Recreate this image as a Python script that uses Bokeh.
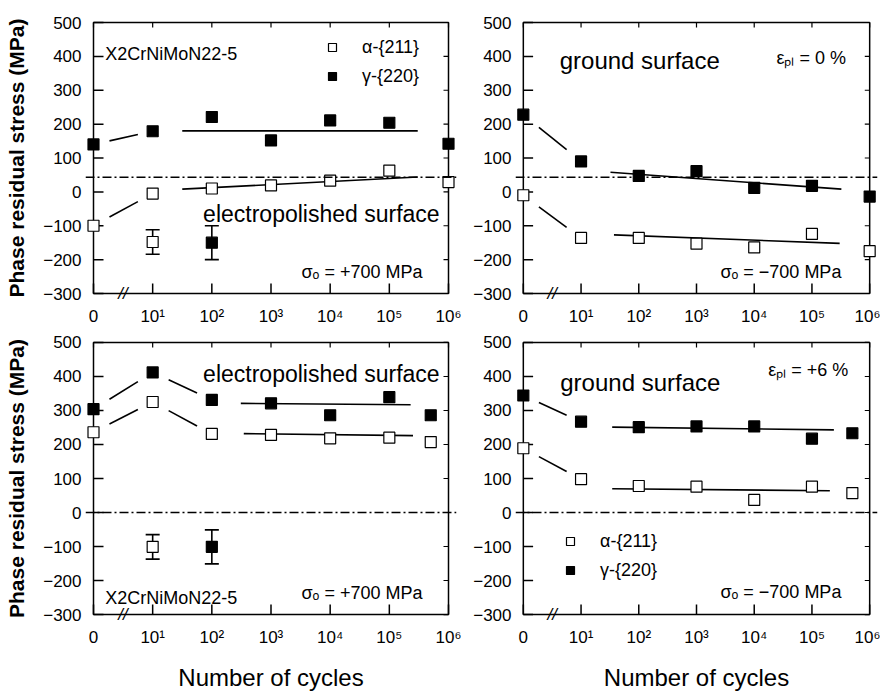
from bokeh.plotting import figure
from bokeh.layouts import column, row
from bokeh.models import (FixedTicker, Span, Whisker, TeeHead, ColumnDataSource,
                          Label, Range1d, Legend, LegendItem)
from bokeh.embed import file_html
from bokeh.resources import INLINE

# ---------------- data ----------------
x_tick_pos = [0, 1, 2, 3, 4, 5, 6]
x_tick_labels = ["0", "10¹", "10²", "10³", "10⁴", "10⁵", "10⁶"]
y_ticks = [-300, -200, -100, 0, 100, 200, 300, 400, 500]
x_min, x_max, y_min, y_max = 0, 6, -300, 500
break_pos = 0.5

# top-left: electropolished, sigma_o = +700 MPa
tl_x = [0, 1, 2, 3, 4, 5, 6]
tl_alpha = [-100, -5, 10, 19, 33, 63, 29]
tl_gamma = [140, 179, 221, 152, 211, 204, 142]
tl_err_x = [1, 2]
tl_err_y = [-148, -150]
tl_err_d = [36, 50]
tl_err_kind = ["alpha", "gamma"]
tl_fit_alpha_x, tl_fit_alpha_y = [1.5, 5.48], [8, 44]
tl_fit_gamma_x, tl_fit_gamma_y = [1.5, 5.48], [180, 180]
tl_ref = 43

# top-right: ground, eps_pl = 0 %
tr_x = [0, 1, 2, 3, 4, 5, 6]
tr_alpha = [-10, -136, -136, -153, -164, -124, -175]
tr_gamma = [228, 90, 47, 61, 12, 18, -14]
tr_fit_alpha_x, tr_fit_alpha_y = [1.57, 5.48], [-127, -152]
tr_fit_gamma_x, tr_fit_gamma_y = [1.51, 5.51], [58, 8]
tr_ref = 43

# bottom-left: electropolished, sigma_o = +700 MPa
bl_x = [0, 1, 2, 3, 4, 5, 5.7]
bl_alpha = [236, 325, 231, 228, 218, 220, 207]
bl_gamma = [304, 412, 331, 321, 286, 339, 286]
bl_err_x = [1, 2]
bl_err_y = [-101, -101]
bl_err_d = [36, 50]
bl_err_kind = ["alpha", "gamma"]
bl_fit_alpha_x, bl_fit_alpha_y = [2.54, 5.4], [232, 226]
bl_fit_gamma_x, bl_fit_gamma_y = [2.49, 5.36], [321, 317]
bl_ref = 0

# bottom-right: ground, eps_pl = +6 %
br_x = [0, 1, 2, 3, 4, 5, 5.7]
br_alpha = [189, 98, 78, 76, 37, 76, 57]
br_gamma = [344, 267, 251, 253, 253, 217, 233]
br_fit_alpha_x, br_fit_alpha_y = [1.54, 5.31], [70, 64]
br_fit_gamma_x, br_fit_gamma_y = [1.54, 5.38], [251, 243]
br_ref = 0

SANS = "Liberation Sans"
PAD = 8


def make_panel(width, height, bl, br, bt, bb, box_w, box_h, ylabel=None, xlabel=None):
    ux = box_w / (x_max - x_min)
    uy = box_h / (y_max - y_min)
    p = figure(width=width, height=height, title=None,
               x_range=Range1d(x_min - PAD / ux, x_max + PAD / ux),
               y_range=Range1d(y_min - PAD / uy, y_max + PAD / uy),
               output_backend="svg", toolbar_location=None,
               min_border_left=bl, min_border_right=br,
               min_border_top=bt, min_border_bottom=bb)
    p.xgrid.visible = False
    p.ygrid.visible = False
    p.outline_line_color = None
    p.background_fill_color = "white"
    p.border_fill_color = "white"
    for ax in (p.xaxis[0], p.yaxis[0]):
        ax.axis_line_color = None
        ax.major_tick_in = 0
        ax.major_tick_out = 0
        ax.minor_tick_line_color = None
        ax.major_label_text_font = SANS
        ax.major_label_text_font_size = "17px"
        ax.major_label_text_color = "black"
    p.yaxis[0].major_label_standoff = 4
    p.xaxis[0].major_label_standoff = 5
    p.xaxis[0].ticker = FixedTicker(ticks=x_tick_pos)
    p.xaxis[0].major_label_overrides = {t: s for t, s in zip(x_tick_pos, x_tick_labels)}
    p.yaxis[0].ticker = FixedTicker(ticks=y_ticks)
    if ylabel:
        p.yaxis[0].axis_label = ylabel
        p.yaxis[0].axis_label_text_font = SANS
        p.yaxis[0].axis_label_text_font_style = "bold"
        p.yaxis[0].axis_label_text_font_size = "21px"
        p.yaxis[0].axis_label_text_color = "black"
        p.yaxis[0].axis_label_standoff = 12
    if xlabel:
        p.xaxis[0].axis_label = xlabel
        p.xaxis[0].axis_label_text_font = SANS
        p.xaxis[0].axis_label_text_font_style = "normal"
        p.xaxis[0].axis_label_text_font_size = "24px"
        p.xaxis[0].axis_label_text_color = "black"
        p.xaxis[0].axis_label_standoff = 14

    # frame box
    p.quad(left=[x_min], right=[x_max], bottom=[y_min], top=[y_max],
           fill_color=None, line_color="black", line_width=1.5)
    # ticks (inside)
    n = len(y_ticks)
    p.segment(x0=[x_min] * n, x1=[x_min + 10 / ux] * n, y0=y_ticks, y1=y_ticks,
              line_color="black", line_width=1.5)
    p.segment(x0=[x_max - 5 / ux] * n, x1=[x_max] * n, y0=y_ticks, y1=y_ticks,
              line_color="black", line_width=1.2)
    m = len(x_tick_pos)
    p.segment(x0=x_tick_pos, x1=x_tick_pos, y0=[y_min] * m,
              y1=[y_min + 10 / uy] * m, line_color="black", line_width=1.5)
    p.segment(x0=x_tick_pos, x1=x_tick_pos, y0=[y_max] * m,
              y1=[y_max - 5 / uy] * m, line_color="black", line_width=1.2)
    # axis break
    p.add_layout(Label(x=break_pos, y=y_min, text="//", text_font=SANS, text_font_size="17px",
                       text_font_style="italic", text_align="center", text_baseline="middle",
                       text_color="black"))
    return p


def add_series(p, xs, alpha, gamma, fit_a, fit_g, ref, conn_idx):
    p.add_layout(Span(location=ref, dimension="width", line_color="black", line_width=1.5,
                      line_dash="9 3 2 3"))
    f0, f1 = 0.27, 0.75
    for ys in (alpha, gamma):
        x0s = [xs[i] + f0 * (xs[i + 1] - xs[i]) for i in conn_idx]
        x1s = [xs[i] + f1 * (xs[i + 1] - xs[i]) for i in conn_idx]
        y0s = [ys[i] + f0 * (ys[i + 1] - ys[i]) for i in conn_idx]
        y1s = [ys[i] + f1 * (ys[i + 1] - ys[i]) for i in conn_idx]
        p.segment(x0=x0s, x1=x1s, y0=y0s, y1=y1s, line_color="black", line_width=1.6)
    p.line(fit_a[0], fit_a[1], line_color="black", line_width=1.6)
    p.line(fit_g[0], fit_g[1], line_color="black", line_width=1.6)
    ra = p.scatter(xs, alpha, marker="square", size=11, fill_color="white",
                   line_color="black", line_width=1.2)
    rg = p.scatter(xs, gamma, marker="square", size=11, fill_color="black",
                   line_color="black", line_width=1.2)
    return ra, rg


def add_errors(p, ex, ey, ed, kinds):
    src = ColumnDataSource(dict(x=ex, y=ey, lo=[y - d for y, d in zip(ey, ed)],
                                hi=[y + d for y, d in zip(ey, ed)],
                                fill=["white" if k == "alpha" else "black" for k in kinds]))
    p.add_layout(Whisker(source=src, base="x", upper="hi", lower="lo", dimension="height",
                         line_color="black", line_width=1.6,
                         upper_head=TeeHead(size=14, line_width=1.6, line_color="black"),
                         lower_head=TeeHead(size=14, line_width=1.6, line_color="black")))
    p.scatter("x", "y", source=src, marker="square", size=11, fill_color="fill",
              line_color="black", line_width=1.2)


def txt(p, x, y, s, size, align):
    p.add_layout(Label(x=x, y=y, text=s, text_font=SANS, text_font_size=size,
                       text_align=align, text_baseline="alphabetic", text_color="black"))


def legend(p, ra, rg, loc):
    lg = Legend(items=[LegendItem(label="α-{211}", renderers=[ra]),
                       LegendItem(label="γ-{220}", renderers=[rg])],
                location=loc, orientation="vertical", padding=0, margin=0, spacing=3,
                glyph_width=20, glyph_height=26, label_height=26, label_standoff=20,
                label_text_font=SANS, label_text_font_size="18px",
                label_text_color="black",
                border_line_color=None, background_fill_alpha=0)
    p.add_layout(lg)


YL = "Phase residual stress (MPa)"
XL = "Number of cycles"

# top-left
tl = make_panel(470, 330, 85, 14, 14, 29, 355, 271, ylabel=YL)
ra, rg = add_series(tl, tl_x, tl_alpha, tl_gamma, (tl_fit_alpha_x, tl_fit_alpha_y),
                    (tl_fit_gamma_x, tl_fit_gamma_y), tl_ref, [0])
add_errors(tl, tl_err_x, tl_err_y, tl_err_d, tl_err_kind)
legend(tl, ra, rg, (237, 212))
txt(tl, 0.2, 406, "X2CrNiMoN22-5", "18px", "left")
txt(tl, 5.85, -66, "electropolished surface", "23px", "right")
txt(tl, 5.56, -237, "σₒ = +700 MPa", "18px", "right")

# top-right
tr = make_panel(410, 330, 37, 3, 14, 29, 354, 271)
add_series(tr, tr_x, tr_alpha, tr_gamma, (tr_fit_alpha_x, tr_fit_alpha_y),
           (tr_fit_gamma_x, tr_fit_gamma_y), tr_ref, [0])
txt(tr, 0.63, 388, "ground surface", "24px", "left")
txt(tr, 5.59, 394, "εₚₗ = 0 %", "18px", "right")
txt(tr, 5.51, -237, "σₒ = −700 MPa", "18px", "right")

# bottom-left
bl = make_panel(470, 363, 85, 14, 4, 70, 355, 273, ylabel=YL, xlabel=XL)
add_series(bl, bl_x, bl_alpha, bl_gamma, (bl_fit_alpha_x, bl_fit_alpha_y),
           (bl_fit_gamma_x, bl_fit_gamma_y), bl_ref, [0, 1])
add_errors(bl, bl_err_x, bl_err_y, bl_err_d, bl_err_kind)
txt(bl, 5.85, 406, "electropolished surface", "23px", "right")
txt(bl, 0.2, -251, "X2CrNiMoN22-5", "18px", "left")
txt(bl, 5.56, -236, "σₒ = +700 MPa", "18px", "right")

# bottom-right
br = make_panel(410, 363, 37, 3, 4, 70, 354, 273, xlabel=XL)
ra2, rg2 = add_series(br, br_x, br_alpha, br_gamma, (br_fit_alpha_x, br_fit_alpha_y),
                      (br_fit_gamma_x, br_fit_gamma_y), br_ref, [0])
legend(br, ra2, rg2, (45, 39))
txt(br, 0.64, 383, "ground surface", "24px", "left")
txt(br, 5.63, 418, "εₚₗ = +6 %", "18px", "right")
txt(br, 5.51, -233, "σₒ = −700 MPa", "18px", "right")

layout = column(row(tl, tr), row(bl, br))
open("out.html", "w").write(file_html(layout, INLINE))
